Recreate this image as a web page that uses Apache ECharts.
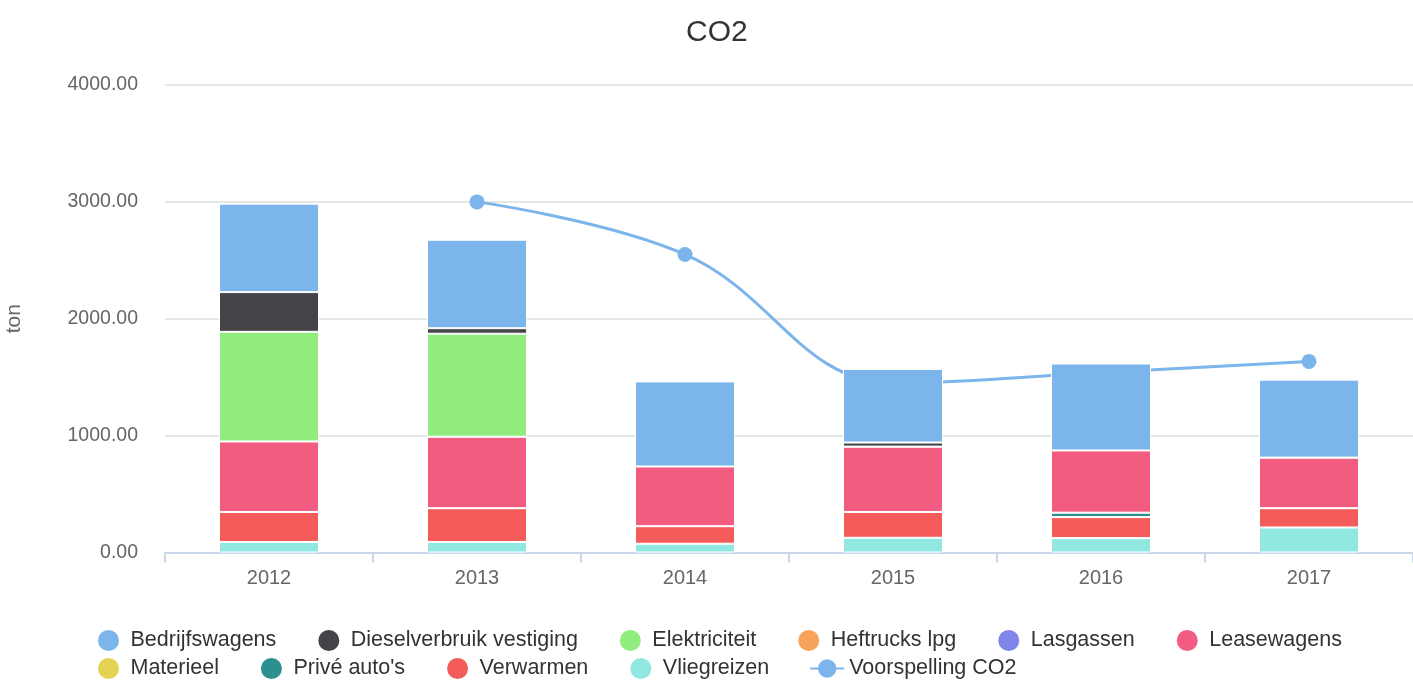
<!DOCTYPE html>
<html>
<head>
<meta charset="utf-8">
<script src="https://cdn.jsdelivr.net/npm/echarts@6/dist/echarts.min.js"></script>
<style>
html,body{margin:0;padding:0;background:#fff;}
#chart{width:1413px;height:681px;}
</style>
</head>
<body>
<div id="chart"></div>
<script>
const years = ['2012', '2013', '2014', '2015', '2016', '2017'];
const bedrijfswagens = [757, 757, 728, 630, 744, 667];
const dieselverbruik = [340, 47, 0, 35, 0, 0];
const elektriciteit = [938, 881, 0, 0, 0, 0];
const heftrucks = [0, 0, 0, 0, 0, 0];
const lasgassen = [0, 0, 0, 0, 0, 0];
const leasewagens = [603, 612, 511, 559, 532, 433];
const materieel = [0, 0, 0, 0, 0, 0];
const priveAutos = [0, 0, 0, 0, 38, 0];
const verwarmen = [257, 289, 150, 221, 180, 165];
const vliegreizen = [90, 90, 75, 126, 123, 214];
const voorspelling = [null, 3000, 2550, 1450, 1540, 1635];
const yTicks = [0, 1000, 2000, 3000, 4000];

const FONT = '"Liberation Sans", Arial, Helvetica, sans-serif';

// Highcharts order: first series on top of the stack
const stackSeries = [
  ['Bedrijfswagens', bedrijfswagens, '#7cb5ec'],
  ['Dieselverbruik vestiging', dieselverbruik, '#434348'],
  ['Elektriciteit', elektriciteit, '#90ed7d'],
  ['Heftrucks lpg', heftrucks, '#f7a35c'],
  ['Lasgassen', lasgassen, '#8085e9'],
  ['Leasewagens', leasewagens, '#f15c80'],
  ['Materieel', materieel, '#e4d354'],
  ["Privé auto's", priveAutos, '#2b908f'],
  ['Verwarmen', verwarmen, '#f45b5b'],
  ['Vliegreizen', vliegreizen, '#91e8e1']
];

const series = [];
stackSeries.slice().reverse().forEach(function (s) {
  series.push({
    name: s[0],
    type: 'bar',
    stack: 'co2',
    data: s[1],
    barWidth: 100,
    z: 3,
    itemStyle: { color: s[2], borderColor: '#ffffff', borderWidth: 1 },
    emphasis: { disabled: true }
  });
});
series.push({
  name: 'Voorspelling CO2',
  type: 'line',
  data: voorspelling,
  smooth: 0.4,
  z: 1,
  symbol: 'circle',
  symbolSize: 15,
  showAllSymbol: true,
  lineStyle: { color: '#7cb5ec', width: 3 },
  itemStyle: { color: '#7cb5ec' },
  emphasis: { disabled: true }
});

const legendText = { color: '#333333', fontSize: 21.5, fontFamily: FONT };
function legendItems(names) {
  return names.map(function (n) {
    return n === 'Voorspelling CO2' ? { name: n } : { name: n, icon: 'circle' };
  });
}
const row1 = ['Bedrijfswagens', 'Dieselverbruik vestiging', 'Elektriciteit', 'Heftrucks lpg', 'Lasgassen', 'Leasewagens'];
const row2 = ['Materieel', "Privé auto's", 'Verwarmen', 'Vliegreizen', 'Voorspelling CO2'];

const chart = echarts.init(document.getElementById('chart'), null, { renderer: 'canvas' });
chart.setOption({
  animation: false,
  backgroundColor: '#ffffff',
  title: {
    text: 'CO2',
    left: 686,
    top: 18,
    padding: 0,
    textStyle: { color: '#333333', fontSize: 30, fontWeight: 'normal', fontFamily: FONT }
  },
  legend: [
    {
      data: legendItems(row1), orient: 'horizontal', left: 96, top: 628, padding: 0,
      itemGap: 40, itemWidth: 34, itemHeight: 23,
      textStyle: legendText, selectedMode: false
    },
    {
      data: legendItems(row2), orient: 'horizontal', left: 96, top: 656, padding: 0,
      itemGap: 40, itemWidth: 34, itemHeight: 23,
      textStyle: legendText, selectedMode: false
    }
  ],
  grid: { left: 165, right: 0, top: 85, bottom: 128.5, containLabel: false, outerBoundsMode: 'none' },
  xAxis: {
    type: 'category',
    data: years,
    boundaryGap: true,
    axisLine: { show: true, lineStyle: { color: '#ccd6eb', width: 2 } },
    axisTick: { show: true, alignWithLabel: false, length: 10, lineStyle: { color: '#ccd6eb', width: 2 } },
    axisLabel: { color: '#666666', fontSize: 20, fontFamily: FONT, margin: 16 },
    splitLine: { show: false }
  },
  yAxis: {
    type: 'value',
    min: yTicks[0],
    max: yTicks[yTicks.length - 1],
    interval: 1000,
    name: 'ton',
    nameLocation: 'middle',
    nameRotate: 90,
    nameGap: 140,
    nameTextStyle: { color: '#666666', fontSize: 21, fontFamily: FONT },
    axisLine: { show: false },
    axisTick: { show: false },
    axisLabel: {
      color: '#666666', fontSize: 19.5, fontFamily: FONT, margin: 27,
      formatter: function (v) { return v.toFixed(2); }
    },
    splitLine: { show: true, lineStyle: { color: '#e6e6e6', width: 2 } }
  },
  tooltip: { show: false },
  series: series
});
</script>
</body>
</html>
